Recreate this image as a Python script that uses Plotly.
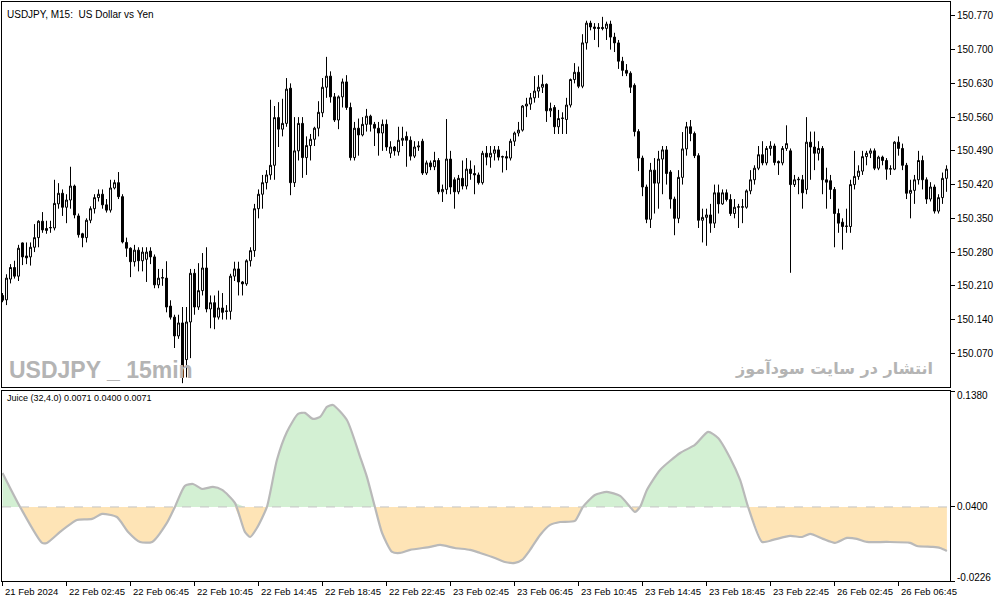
import plotly.graph_objects as go

# ---------------- data ----------------
opens = [150.190,150.181,150.224,150.248,150.230,150.299,150.272,150.270,150.290,150.310,
         150.344,150.329,150.330,150.330,150.380,150.402,150.373,150.388,150.417,150.355,
         150.318,150.310,150.346,150.370,150.393,150.400,150.378,150.367,150.413,150.424,
         150.395,150.300,150.288,150.260,150.284,150.262,150.265,150.282,150.270,150.212,
         150.226,150.226,150.168,150.145,150.106,150.133,150.057,150.135,150.236,150.166,
         150.200,150.247,150.162,150.175,150.145,150.164,150.158,150.157,150.230,150.245,
         150.218,150.214,150.262,150.283,150.370,150.400,150.424,150.440,150.460,150.559,
         150.535,150.547,150.620,150.424,150.490,150.547,150.476,150.501,150.514,150.537,
         150.569,150.622,150.645,150.602,150.554,150.602,150.633,150.580,150.476,150.537,
         150.523,150.545,150.562,150.545,150.537,150.527,150.545,150.485,150.498,150.488,
         150.512,150.520,150.512,150.479,150.498,150.510,150.444,150.465,150.457,150.470,
         150.405,150.410,150.473,150.430,150.405,150.433,150.417,150.452,150.443,150.440,
         150.424,150.485,150.477,150.485,150.492,150.477,150.478,150.475,150.510,150.527,
         150.533,150.583,150.587,150.600,150.614,150.622,150.628,150.573,150.580,150.540,
         150.557,150.555,150.585,150.638,150.653,150.624,150.714,150.755,150.747,150.746,
         150.746,150.744,150.753,150.726,150.714,150.676,150.657,150.651,150.626,150.530,
         150.475,150.415,150.348,150.450,150.423,150.473,150.492,150.446,150.390,150.350,
         150.435,150.494,150.540,150.526,150.480,150.346,150.352,150.357,150.340,150.403,
         150.380,150.403,150.389,150.360,150.373,150.373,150.373,150.407,150.430,150.454,
         150.482,150.465,150.495,150.500,150.468,150.465,150.495,150.490,150.420,150.430,
         150.430,150.410,150.508,150.498,150.485,150.495,150.430,150.428,150.410,150.360,
         150.342,150.333,150.333,150.420,150.437,150.448,150.478,150.485,150.490,150.454,
         150.477,150.470,150.452,150.452,150.508,150.495,150.460,150.402,150.408,150.430,
         150.470,150.430,150.390,150.415,150.365,150.393,150.433]
highs = [150.195,150.234,150.255,150.262,150.295,150.300,150.300,150.300,150.338,150.346,
         150.363,150.345,150.345,150.430,150.423,150.410,150.400,150.457,150.420,150.360,
         150.320,150.350,150.375,150.400,150.410,150.410,150.390,150.430,150.430,150.446,
         150.400,150.310,150.290,150.295,150.290,150.290,150.290,150.290,150.275,150.245,
         150.245,150.261,150.180,150.150,150.150,150.166,150.166,150.245,150.245,150.257,
         150.278,150.290,150.190,150.190,150.200,150.195,150.170,150.235,150.260,150.260,
         150.220,150.265,150.290,150.380,150.410,150.440,150.450,150.596,150.583,150.591,
         150.598,150.641,150.630,150.560,150.560,150.560,150.520,150.525,150.540,150.593,
         150.641,150.685,150.655,150.610,150.605,150.640,150.647,150.590,150.550,150.557,
         150.560,150.577,150.565,150.550,150.550,150.555,150.555,150.510,150.500,150.540,
         150.540,150.530,150.520,150.510,150.510,150.515,150.470,150.470,150.488,150.475,
         150.420,150.556,150.490,150.435,150.440,150.470,150.475,150.470,150.460,150.445,
         150.490,150.500,150.500,150.500,150.500,150.480,150.490,150.515,150.530,150.550,
         150.585,150.600,150.610,150.645,150.647,150.648,150.630,150.590,150.585,150.575,
         150.570,150.600,150.640,150.672,150.665,150.732,150.760,150.760,150.755,150.755,
         150.768,150.758,150.760,150.735,150.720,150.685,150.670,150.655,150.630,150.535,
         150.480,150.420,150.465,150.475,150.490,150.500,150.500,150.450,150.395,150.450,
         150.529,150.550,150.554,150.530,150.485,150.370,150.370,150.380,150.420,150.420,
         150.410,150.410,150.400,150.390,150.380,150.390,150.410,150.450,150.460,150.500,
         150.510,150.500,150.510,150.505,150.470,150.500,150.543,150.495,150.440,150.436,
         150.440,150.560,150.530,150.530,150.510,150.500,150.455,150.440,150.415,150.370,
         150.350,150.370,150.430,150.490,150.460,150.490,150.490,150.495,150.495,150.480,
         150.480,150.475,150.460,150.510,150.520,150.505,150.465,150.430,150.440,150.490,
         150.480,150.435,150.425,150.420,150.400,150.445,150.460]
lows = [150.176,150.170,150.215,150.225,150.220,150.253,150.255,150.252,150.280,150.290,
        150.320,150.318,150.320,150.325,150.370,150.355,150.340,150.370,150.350,150.310,
        150.290,150.300,150.340,150.360,150.385,150.370,150.362,150.362,150.410,150.390,
        150.298,150.270,150.228,150.250,150.240,150.240,150.218,150.255,150.205,150.205,
        150.210,150.155,150.140,150.081,150.100,150.008,150.020,150.060,150.150,150.160,
        150.190,150.155,150.122,150.120,150.140,150.140,150.140,150.140,150.220,150.190,
        150.190,150.210,150.250,150.270,150.350,150.370,150.410,150.430,150.430,150.498,
        150.520,150.540,150.398,150.415,150.470,150.434,150.440,150.470,150.500,150.520,
        150.560,150.600,150.590,150.550,150.535,150.580,150.575,150.470,150.470,150.480,
        150.520,150.530,150.530,150.500,150.480,150.490,150.490,150.475,150.480,150.480,
        150.500,150.457,150.470,150.475,150.490,150.440,150.440,150.450,150.450,150.400,
        150.384,150.400,150.400,150.370,150.400,150.410,150.410,150.430,150.400,150.420,
        150.420,150.460,150.455,150.470,150.470,150.445,150.450,150.470,150.500,150.520,
        150.530,150.560,150.575,150.590,150.600,150.610,150.550,150.560,150.525,150.525,
        150.525,150.525,150.580,150.630,150.620,150.620,150.700,150.740,150.720,150.705,
        150.740,150.720,150.700,150.695,150.660,150.645,150.645,150.610,150.520,150.448,
        150.396,150.340,150.330,150.360,150.370,150.400,150.420,150.370,150.315,150.340,
        150.420,150.480,150.510,150.475,150.330,150.300,150.293,150.320,150.330,150.360,
        150.378,150.385,150.355,150.350,150.330,150.340,150.370,150.400,150.420,150.450,
        150.460,150.460,150.480,150.460,150.440,150.460,150.490,150.237,150.415,150.400,
        150.370,150.400,150.430,150.450,150.470,150.400,150.370,150.390,150.290,150.320,
        150.285,150.320,150.320,150.410,150.430,150.440,150.460,150.475,150.450,150.450,
        150.460,150.430,150.440,150.450,150.480,150.450,150.390,150.350,150.380,150.420,
        150.410,150.380,150.385,150.360,150.360,150.380,150.405]
closes = [150.180,150.226,150.248,150.230,150.288,150.270,150.268,150.290,150.310,150.344,
          150.326,150.325,150.331,150.381,150.402,150.373,150.388,150.417,150.357,150.316,
          150.310,150.346,150.370,150.393,150.400,150.378,150.367,150.413,150.424,150.395,
          150.301,150.288,150.260,150.284,150.262,150.280,150.280,150.270,150.212,150.226,
          150.227,150.166,150.145,150.106,150.133,150.020,150.135,150.236,150.166,150.200,
          150.247,150.162,150.175,150.145,150.164,150.155,150.157,150.230,150.245,150.218,
          150.214,150.262,150.283,150.370,150.400,150.424,150.440,150.460,150.559,150.535,
          150.547,150.618,150.424,150.490,150.547,150.476,150.501,150.514,150.537,150.570,
          150.622,150.645,150.602,150.554,150.602,150.633,150.580,150.476,150.537,150.523,
          150.545,150.562,150.545,150.537,150.527,150.545,150.498,150.498,150.490,150.512,
          150.516,150.512,150.479,150.498,150.500,150.444,150.465,150.457,150.470,150.405,
          150.410,150.473,150.415,150.405,150.433,150.417,150.452,150.443,150.440,150.424,
          150.485,150.477,150.485,150.492,150.477,150.478,150.475,150.510,150.527,150.533,
          150.583,150.587,150.600,150.614,150.622,150.628,150.573,150.578,150.540,150.557,
          150.558,150.585,150.638,150.653,150.624,150.714,150.755,150.747,150.744,150.744,
          150.744,150.753,150.726,150.714,150.676,150.657,150.651,150.622,150.530,150.475,
          150.415,150.348,150.450,150.423,150.473,150.492,150.443,150.390,150.350,150.435,
          150.494,150.540,150.526,150.480,150.346,150.352,150.357,150.340,150.403,150.380,
          150.403,150.389,150.360,150.373,150.374,150.374,150.407,150.430,150.454,150.482,
          150.465,150.495,150.500,150.466,150.465,150.495,150.505,150.420,150.430,150.431,
          150.403,150.508,150.498,150.485,150.495,150.430,150.425,150.410,150.360,150.340,
          150.333,150.334,150.420,150.437,150.448,150.478,150.485,150.490,150.454,150.477,
          150.470,150.452,150.453,150.508,150.495,150.460,150.402,150.408,150.430,150.470,
          150.430,150.390,150.415,150.365,150.393,150.433,150.452]

juice_idx = [0, 4.4, 9.9, 11.1, 14.4, 17.4, 18.6, 22.4, 24.9, 28.6, 31.4, 34.4, 37.4, 41.1,
             43.1, 45.6, 47.6, 49.9, 52.6, 54.9, 58.1, 60.6, 61.9, 63.6, 66.1, 68.6, 71.1,
             73.9, 75.6, 77.6, 79.4, 81.1, 82.6, 86.1, 89.4, 91.1, 93.1, 94.9, 97.4, 99.4,
             101.9, 106.9, 109.4, 113.1, 116.9, 119.4, 123.1, 125.6, 128.1, 129.9, 131.9,
             134.4, 136.9, 139.4, 143.1, 145.1, 148.1, 151.1, 154.4, 156.9, 158.1, 159.4,
             161.1, 164.4, 169.4, 173.1, 176.4, 178.9, 181.9, 184.4, 186.4, 189.9, 192.6,
             196.9, 199.9, 201.9, 205.1, 208.1, 211.1, 213.6, 216.1, 221.1, 226.9, 228.6,
             232.6, 234.4, 236.1]
juice_val = [0.0687, 0.0400, 0.0096, 0.0096, 0.0189, 0.0265, 0.0290, 0.0299, 0.0341, 0.0315,
             0.0189, 0.0104, 0.0104, 0.0265, 0.0400, 0.0578, 0.0594, 0.0552, 0.0569, 0.0544,
             0.0434, 0.0189, 0.0146, 0.0222, 0.0400, 0.0797, 0.1034, 0.1186, 0.1195, 0.1144,
             0.1161, 0.1245, 0.1262, 0.1135, 0.0823, 0.0654, 0.0400, 0.0180, 0.0020, 0.0011,
             0.0037, 0.0062, 0.0079, 0.0053, 0.0037, 0.0011, -0.0031, -0.0065, -0.0073, -0.0048,
             0.0037, 0.0163, 0.0248, 0.0273, 0.0282, 0.0400, 0.0501, 0.0527, 0.0493, 0.0400,
             0.0358, 0.0400, 0.0544, 0.0713, 0.0856, 0.0924, 0.1034, 0.0983, 0.0814, 0.0628,
             0.0400, 0.0104, 0.0121, 0.0155, 0.0146, 0.0172, 0.0130, 0.0096, 0.0138, 0.0130,
             0.0104, 0.0104, 0.0096, 0.0070, 0.0062, 0.0053, 0.0028]
juice_level = 0.0400

price_ticks = [150.070, 150.140, 150.210, 150.280, 150.350, 150.420, 150.490, 150.560, 150.630, 150.700, 150.770]
time_labels = ["21 Feb 2024", "22 Feb 02:45", "22 Feb 06:45", "22 Feb 10:45", "22 Feb 14:45",
               "22 Feb 18:45", "22 Feb 22:45", "23 Feb 02:45", "23 Feb 06:45", "23 Feb 10:45",
               "23 Feb 14:45", "23 Feb 18:45", "23 Feb 22:45", "26 Feb 02:45", "26 Feb 06:45"]
time_label_pos = [16 * k for k in range(len(time_labels))]
sub_ticks = [0.1380, 0.0400, -0.0226]
sub_tick_text = ["0.1380", "0.0400", "-0.0226"]

# ---------------- figure ----------------
W, H = 1003, 603
FONT = "Liberation Sans, Arial, sans-serif"
bars = list(range(len(closes)))


def px(x):
    return x / W


def py(y):
    return 1 - y / H


fig = go.Figure()
fig.add_trace(go.Candlestick(
    x=bars, open=opens, high=highs, low=lows, close=closes,
    increasing=dict(line=dict(color="black", width=1), fillcolor="white"),
    decreasing=dict(line=dict(color="black", width=1), fillcolor="black"),
    whiskerwidth=0, xaxis="x", yaxis="y", showlegend=False, hoverinfo="skip"))

pos_vals = [max(v, juice_level) for v in juice_val]
neg_vals = [min(v, juice_level) for v in juice_val]
base = [juice_level] * len(juice_val)
for vals, col in ((pos_vals, "#d3f0d3"), (neg_vals, "#fee4b6")):
    fig.add_trace(go.Scatter(x=juice_idx, y=base, mode="lines", line=dict(width=0),
                             xaxis="x2", yaxis="y2", showlegend=False, hoverinfo="skip"))
    fig.add_trace(go.Scatter(x=juice_idx, y=vals, mode="lines", line=dict(width=0),
                             fill="tonexty", fillcolor=col,
                             xaxis="x2", yaxis="y2", showlegend=False, hoverinfo="skip"))
fig.add_trace(go.Scatter(x=juice_idx, y=juice_val, mode="lines",
                         line=dict(color="#b9b9b9", width=2.2, shape="spline", smoothing=0.6),
                         xaxis="x2", yaxis="y2", showlegend=False, hoverinfo="skip"))

xr = [-0.125, 236.875]
x_dom = [px(2), px(950)]
axis_common = dict(showline=True, mirror=True, linecolor="black", linewidth=1,
                   showgrid=False, zeroline=False)

fig.update_layout(
    width=W, height=H, margin=dict(l=0, r=0, t=0, b=0),
    paper_bgcolor="white", plot_bgcolor="white",
    font=dict(family=FONT, size=10, color="black"),
    xaxis=dict(domain=x_dom, range=xr, anchor="y", showticklabels=False, ticks="",
               rangeslider=dict(visible=False), **axis_common),
    yaxis=dict(domain=[py(387), py(2)], range=[150.0001, 150.7988], side="right",
               tickvals=price_ticks, ticktext=[f"{t:.3f}" for t in price_ticks],
               ticks="outside", ticklen=4, tickcolor="black",
               tickfont=dict(family=FONT, size=10, color="black"), **axis_common),
    xaxis2=dict(domain=x_dom, range=xr, anchor="y2", tickvals=time_label_pos,
                ticks="outside", ticklen=4, tickcolor="black", showticklabels=False,
                **axis_common),
    yaxis2=dict(domain=[py(581), py(391)], range=[-0.0226, 0.1380], side="right",
                tickvals=sub_ticks, ticks="outside", ticklen=4, tickcolor="black",
                showticklabels=False, **axis_common),
)

fig.add_shape(type="line", xref="x2 domain", yref="y2", x0=0, x1=0.9985,
              y0=juice_level, y1=juice_level, layer="above",
              line=dict(color="#c4c4c4", width=1, dash="dash"))

ann = []
ann.append(dict(text="USDJPY, M15:  US Dollar vs Yen", x=px(5), y=py(15), xref="paper", yref="paper",
                xanchor="left", yanchor="middle", showarrow=False,
                font=dict(family=FONT, size=10, color="black")))
ann.append(dict(text=f"Juice (32,4.0) 0.0071 {juice_level:.4f} 0.0071", x=px(5), y=py(398),
                xref="paper", yref="paper", xanchor="left", yanchor="middle", showarrow=False,
                font=dict(family=FONT, size=9, color="black")))
ann.append(dict(text="<b>USDJPY _ 15min</b>",
                x=px(7), y=py(370), xref="paper", yref="paper",
                xanchor="left", yanchor="middle", showarrow=False,
                font=dict(family="Liberation Sans, Arial, sans-serif", size=23, color="#b4b4b4")))
ann.append(dict(text="<b>انتشار در سایت سودآموز</b>", x=px(935), y=py(368), xref="paper", yref="paper",
                xanchor="right", yanchor="middle", showarrow=False,
                font=dict(family="DejaVu Sans, sans-serif", size=16, color="#b4b4b4")))
sub_label_y = [395, 507, 577]
for t, yy in zip(sub_tick_text, sub_label_y):
    ann.append(dict(text=t, x=px(955), y=py(yy), xref="paper", yref="paper",
                    xanchor="left", yanchor="middle", showarrow=False,
                    font=dict(family=FONT, size=10, color="black")))
for lab, pos in zip(time_labels, time_label_pos):
    ann.append(dict(text=lab, x=pos, xref="x2", y=py(591), yref="paper",
                    xanchor="left", yanchor="middle", xshift=0, showarrow=False,
                    font=dict(family=FONT, size=9.5, color="black")))
fig.update_layout(annotations=ann)

fig.write_html("out.html", config={"displayModeBar": False},
               post_script="document.body.style.margin='0px';document.body.style.overflow='hidden';")
